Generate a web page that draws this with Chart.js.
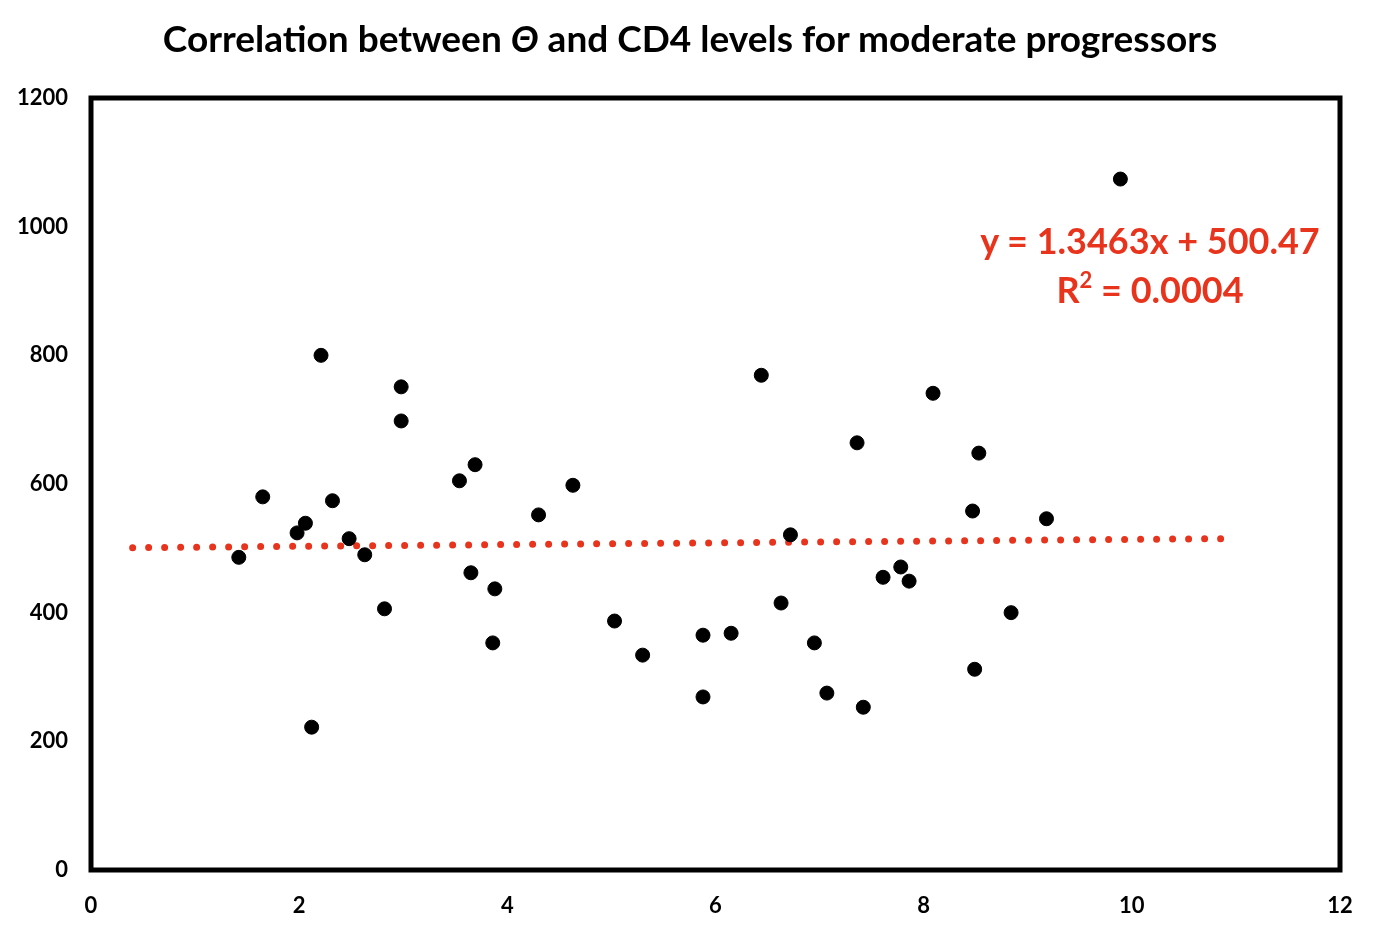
<!DOCTYPE html>
<html>
<head>
<meta charset="utf-8">
<script src="https://cdn.jsdelivr.net/npm/chart.js@4.4.1/dist/chart.umd.min.js"></script>
<style>
  body { margin: 0; background: #fff; }
  #wrap { position: relative; width: 1384px; height: 936px; font-family: Lato, "Open Sans", sans-serif; }
  #title { position: absolute; left: 0; width: 1380px; top: 15px; text-align: center; font-size: 37px; font-weight: bold; color: #000; }
  #eq { position: absolute; left: 950px; width: 400px; top: 216px; text-align: center; font-size: 36px; font-weight: bold; color: #E8341C; line-height: 49px; }
  #eq sup { font-size: 22px; vertical-align: 15px; line-height: 0; }
</style>
</head>
<body>
<div id="wrap">
  <canvas id="chart" width="1384" height="936"></canvas>
  <div id="title">Correlation between <i>Θ</i> and CD4 levels for moderate progressors</div>
  <div id="eq">y = 1.3463x + 500.47<br>R<sup>2</sup> = 0.0004</div>
</div>
<script>
// ── Data ────────────────────────────────────────────────────
const thetaValues = [1.42, 1.65, 1.98, 2.06, 2.12, 2.21, 2.32, 2.48, 2.63, 2.82,
  2.98, 2.98, 3.54, 3.65, 3.69, 3.86, 3.88, 4.30, 4.63, 5.03,
  5.30, 5.88, 5.88, 6.15, 6.44, 6.63, 6.72, 6.95, 7.07, 7.36,
  7.42, 7.61, 7.78, 7.86, 8.09, 8.47, 8.49, 8.53, 8.84, 9.18, 9.89];
const cd4Values = [486, 580, 524, 539, 222, 800, 574, 515, 490, 406,
  751, 698, 605, 462, 630, 353, 437, 552, 598, 387,
  334, 365, 269, 368, 769, 415, 521, 353, 275, 664,
  253, 455, 471, 449, 741, 558, 312, 648, 400, 546, 1074];
const xTicks = [0, 2, 4, 6, 8, 10, 12];
const yTicks = [0, 200, 400, 600, 800, 1000, 1200];

// Excel linear trendline
const slope = 1.3463;
const intercept = 500.47;
const trendRange = [0.4, 10.9];

const points = thetaValues.map((x, i) => ({ x, y: cd4Values[i] }));
const trendPoints = trendRange.map(x => ({ x, y: slope * x + intercept }));

// ── Plot frame ──────────────────────────────────────────────
const frameBox = {
  id: 'frameBox',
  beforeDatasetsDraw(chart) {
    const { ctx, chartArea: a } = chart;
    ctx.save();
    ctx.strokeStyle = '#000';
    ctx.lineWidth = 5;
    ctx.strokeRect(a.left, a.top, a.right - a.left, a.bottom - a.top);
    ctx.restore();
  }
};

const tickFont = { family: 'Lato, "Open Sans", sans-serif', size: 22, weight: 'bold' };

new Chart(document.getElementById('chart'), {
  type: 'scatter',
  data: {
    datasets: [
      {
        label: 'CD4',
        data: points,
        backgroundColor: '#000',
        borderColor: '#000',
        pointRadius: 7,
        pointHoverRadius: 7,
      },
      {
        label: 'Trend',
        type: 'line',
        data: trendPoints,
        borderColor: '#E8341C',
        borderWidth: 7,
        borderDash: [0, 16],
        borderCapStyle: 'round',
        pointRadius: 0,
        fill: false,
      }
    ]
  },
  options: {
    responsive: false,
    devicePixelRatio: 1,
    animation: false,
    layout: { padding: { top: 98, right: 44, left: 0, bottom: 0 } },
    plugins: {
      legend: { display: false },
      tooltip: { enabled: false },
    },
    scales: {
      x: {
        type: 'linear',
        min: 0, max: 12,
        afterBuildTicks: axis => { axis.ticks = xTicks.map(v => ({ value: v })); },
        afterFit: axis => { axis.height = 66; },
        grid: { display: false, drawTicks: false },
        border: { display: false },
        ticks: { font: tickFont, color: '#000', padding: 23, callback: v => String(v) },
      },
      y: {
        min: 0, max: 1200,
        afterBuildTicks: axis => { axis.ticks = yTicks.map(v => ({ value: v })); },
        afterFit: axis => { axis.width = 91; },
        grid: { display: false, drawTicks: false },
        border: { display: false },
        ticks: { font: tickFont, color: '#000', padding: 23, callback: v => String(v) },
      }
    }
  },
  plugins: [frameBox]
});
</script>
</body>
</html>
